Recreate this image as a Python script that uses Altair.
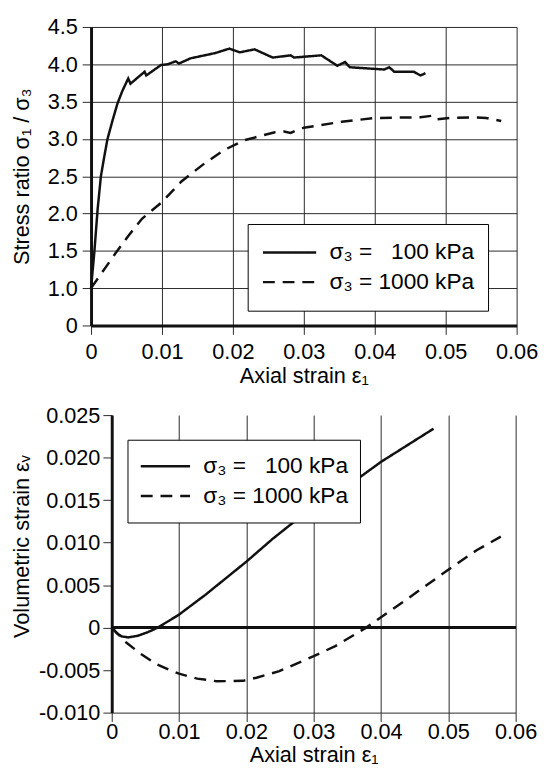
import altair as alt
import pandas as pd

# ---------------- data ----------------
LAB100 = "σ₃ = \u2007100 kPa"
LAB1000 = "σ₃ = 1000 kPa"

# Top panel: stress ratio vs axial strain
top100_x = [0, 0.00047, 0.00093, 0.00139, 0.00186, 0.00232, 0.00301, 0.00371, 0.0044,
            0.00524, 0.00556, 0.00755, 0.00778, 0.00986, 0.0108, 0.01194, 0.0124, 0.01403,
            0.0175, 0.0195, 0.02097, 0.02306, 0.02561, 0.02815, 0.0286, 0.03246, 0.03472,
            0.0358, 0.03649, 0.04135, 0.04204, 0.04274, 0.04551, 0.04644, 0.04714]
top100_y = [1.0, 1.49, 2.06, 2.50, 2.76, 3.00, 3.24, 3.47, 3.64,
            3.81, 3.74, 3.90, 3.85, 3.99, 4.00, 4.04, 4.01, 4.08,
            4.15, 4.21, 4.16, 4.20, 4.09, 4.12, 4.09, 4.12, 3.98,
            4.03, 3.96, 3.93, 3.96, 3.90, 3.90, 3.85, 3.88]

top1000_x = [0, 0.00347, 0.00533, 0.00718, 0.00996, 0.01274, 0.01597, 0.01875, 0.02153,
             0.02593, 0.0272, 0.02815, 0.02885, 0.03, 0.03533, 0.03996, 0.04644, 0.04806,
             0.04861, 0.05061, 0.05385, 0.0557, 0.05783]
top1000_y = [1.0, 1.47, 1.71, 1.93, 2.15, 2.43, 2.67, 2.85, 2.98,
             3.09, 3.10, 3.08, 3.11, 3.15, 3.23, 3.28, 3.29, 3.31,
             3.26, 3.28, 3.29, 3.28, 3.24]

# Bottom panel: volumetric strain vs axial strain
bot100_x = [0, 0.00073, 0.00146, 0.00245, 0.0039, 0.00537, 0.00684, 0.01, 0.0127,
            0.0139, 0.02, 0.0239, 0.0278, 0.0367, 0.04, 0.0478]
bot100_y = [0, -0.00064, -0.00103, -0.00115, -0.00095, -0.00053, 0.0, 0.00153, 0.00314,
            0.00385, 0.00776, 0.01044, 0.0129, 0.0176, 0.0195, 0.0234]

bot1000_x = [0, 0.0022, 0.0044, 0.0066, 0.00855, 0.01, 0.0127, 0.0156, 0.0195, 0.0215,
             0.0249, 0.03, 0.0332, 0.0378, 0.04, 0.0439, 0.05, 0.0542, 0.0578]
bot1000_y = [0, -0.00179, -0.00313, -0.00428, -0.00497, -0.00542, -0.006, -0.00631,
             -0.00626, -0.00589, -0.00512, -0.00336, -0.00218, 0.0, 0.00123, 0.00337,
             0.00681, 0.0091, 0.01071]

x_ticks = [0, 0.01, 0.02, 0.03, 0.04, 0.05, 0.06]
top_y_ticks = [0.5, 1.0, 1.5, 2.0, 2.5, 3.0, 3.5, 4.0, 4.5]
bot_y_ticks = [-0.010, -0.005, 0, 0.005, 0.010, 0.015, 0.020, 0.025]


def frame(xs, ys, label):
    return pd.DataFrame({"strain": xs, "val": ys, "series": label, "ord": range(len(xs))})


df_top = pd.concat([frame(top100_x, top100_y, LAB100), frame(top1000_x, top1000_y, LAB1000)])
df_bot = pd.concat([frame(bot100_x, bot100_y, LAB100), frame(bot1000_x, bot1000_y, LAB1000)])

FONT = "Liberation Sans"
INK = "#111111"
GRID = "#2a2a2a"


def dash_legend(lx, ly, pad, sym_len):
    return alt.Legend(
        title=None, orient="none", legendX=lx, legendY=ly,
        fillColor="white", strokeColor="black", padding=pad,
        symbolType="stroke", symbolSize=sym_len * sym_len, symbolStrokeWidth=2.5,
        symbolStrokeColor=INK, labelFont=FONT, labelFontSize=23,
        labelColor="black", labelOffset=12, labelLimit=400,
        clipHeight=30, rowPadding=0,
    )


dash_scale = alt.Scale(domain=[LAB100, LAB1000], range=[[1, 0], [12, 8]])

x_top = alt.X(
    "strain:Q",
    scale=alt.Scale(domain=[0, 0.06], nice=False, zero=False),
    axis=alt.Axis(values=x_ticks, title="Axial strain ε₁",
                  labelExpr="datum.value == 0 ? '0' : format(datum.value, '.2f')",
                  labelPadding=8, titlePadding=3),
)
y_top = alt.Y(
    "val:Q",
    scale=alt.Scale(domain=[0.5, 4.5], nice=False, zero=False),
    axis=alt.Axis(values=top_y_ticks, title="Stress ratio σ₁ / σ₃",
                  labelExpr="datum.value == 0.5 ? '0' : format(datum.value, '.1f')",
                  labelPadding=5, titlePadding=14),
)

top = alt.Chart(df_top).mark_line(color=INK, strokeWidth=2.5).encode(
    x=x_top,
    y=y_top,
    strokeDash=alt.StrokeDash("series:N", scale=dash_scale,
                              legend=dash_legend(159, 200, 14, 54)),
    order="ord:Q",
).properties(width=432, height=303)

x_bot = alt.X(
    "strain:Q",
    scale=alt.Scale(domain=[0, 0.06], nice=False, zero=False),
    axis=alt.Axis(values=x_ticks, title="Axial strain ε₁",
                  labelExpr="datum.value == 0 ? '0' : format(datum.value, '.2f')",
                  domainColor=GRID, domainWidth=1, labelPadding=0, titlePadding=3),
)
y_bot = alt.Y(
    "val:Q",
    scale=alt.Scale(domain=[-0.010, 0.025], nice=False, zero=False),
    axis=alt.Axis(values=bot_y_ticks, title="Volumetric strain εᵥ",
                  labelExpr="datum.value == 0 ? '0' : replace(format(datum.value, '.3f'), '\u2212', '-')",
                  labelPadding=3, titlePadding=5, titleY=133),
)

zero_rule = alt.Chart(df_bot).mark_rule(color=INK, strokeWidth=2.5).encode(
    y=alt.datum(0)
)

bot_lines = alt.Chart(df_bot).mark_line(color=INK, strokeWidth=2.5).encode(
    x=x_bot,
    y=y_bot,
    strokeDash=alt.StrokeDash("series:N", scale=dash_scale,
                              legend=dash_legend(37, 25, 12, 50)),
    order="ord:Q",
)

bottom = alt.layer(zero_rule, bot_lines).properties(width=410, height=302)

# an invisible spacer lets the lower panel sit further right than the upper one
spacer = alt.Chart(pd.DataFrame({"s": [0]})).mark_point(opacity=0).encode(
    x=alt.value(0), y=alt.value(0)
).properties(width=1, height=1)

bottom_row = alt.hconcat(spacer, bottom, spacing=-86)

chart = alt.vconcat(top, bottom_row, spacing=16).properties(
    autosize=alt.AutoSizeParams(type="none"),
    padding={"left": 84.3, "top": 13.5, "right": 453.7, "bottom": 749.5},
).resolve_scale(strokeDash="independent", x="independent", y="independent"
).resolve_legend(strokeDash="independent").configure_view(
    stroke="transparent"
).configure_axis(
    labelFont=FONT, labelFontSize=22, labelColor="black", labelFlush=False,
    titleFont=FONT, titleFontSize=22, titleFontWeight="normal", titleColor="black",
    gridColor=GRID, gridWidth=1, gridOpacity=1,
    tickColor=GRID, tickSize=9, tickWidth=1,
    domainColor=INK, domainWidth=3,
)

chart.save("out.html", embed_options={"renderer": "svg", "actions": False})
